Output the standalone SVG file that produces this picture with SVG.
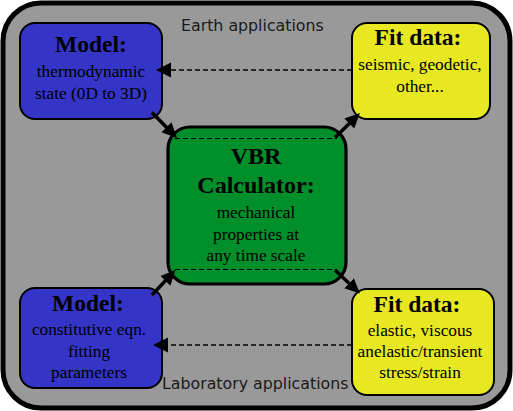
<svg xmlns="http://www.w3.org/2000/svg" width="513" height="411" viewBox="0 0 513 411">
<style>
.box{stroke:#000;stroke-width:2}
.blue{fill:#3434c6}
.yellow{fill:#e8e822}
.green{fill:#008f2b;stroke:#000;stroke-width:3.2}
.h{font-family:"Liberation Serif",serif;font-weight:bold;font-size:23.5px;fill:#000;text-anchor:middle}
.t{font-family:"Liberation Serif",serif;font-size:17.3px;fill:#000;text-anchor:middle}
.lab{font-family:"DejaVu Sans",sans-serif;font-size:15.8px;fill:#1a1a1a}
.solid{stroke:#000;stroke-width:3.5;fill:none}
.dash{stroke:#000;stroke-width:1.5;fill:none;stroke-dasharray:5,3}
.thin{stroke:#000;stroke-width:1.2;fill:none;stroke-dasharray:5,3}
</style>
<defs>
<marker id="ah" markerUnits="userSpaceOnUse" markerWidth="16" markerHeight="15" refX="9" refY="7" orient="auto">
<path d="M0,0 L15,7 L0,14 z" fill="#000"/>
</marker>
<marker id="dh" markerUnits="userSpaceOnUse" markerWidth="16" markerHeight="16" refX="14" refY="7.5" orient="auto">
<path d="M0,0 L15,7.5 L0,15 z" fill="#000"/>
</marker>
</defs>
<g id="background">
<rect x="3" y="3" width="507" height="405" rx="38" ry="38" fill="#999999" stroke="#000" stroke-width="5"/>
<text class="lab" x="181" y="31">Earth applications</text>
<text class="lab" x="162" y="389">Laboratory applications</text>
</g>
<g id="model-earth">
<rect class="box blue" x="20" y="23" width="142" height="96" rx="15"/>
<text class="h" x="91" y="52">Model:</text>
<text class="t" x="91" y="77">thermodynamic</text>
<text class="t" x="91" y="99">state (0D to 3D)</text>
</g>
<g id="fit-earth">
<rect class="box yellow" x="352" y="23" width="138" height="96" rx="15"/>
<text class="h" x="418" y="45">Fit data:</text>
<text class="t" x="420" y="70">seismic, geodetic,</text>
<text class="t" x="420" y="92">other...</text>
</g>
<g id="vbr">
<rect class="green" x="168" y="127" width="178" height="157" rx="22"/>
<text class="h" x="256" y="164" style="font-size:24px">VBR</text>
<text class="h" x="256" y="193" style="font-size:24px">Calculator:</text>
<text class="t" x="256" y="218">mechanical</text>
<text class="t" x="256" y="240">properties at</text>
<text class="t" x="256" y="261">any time scale</text>
</g>
<g id="model-lab">
<rect class="box blue" x="20" y="288" width="142" height="100" rx="15"/>
<text class="h" x="88" y="311">Model:</text>
<text class="t" x="89" y="335">constitutive eqn.</text>
<text class="t" x="89" y="357">fitting</text>
<text class="t" x="89" y="378">parameters</text>
</g>
<g id="fit-lab">
<rect class="box yellow" x="352" y="289" width="142" height="106" rx="15"/>
<text class="h" x="417" y="312">Fit data:</text>
<text class="t" x="420" y="336">elastic, viscous</text>
<text class="t" x="420" y="357">anelastic/transient</text>
<text class="t" x="420" y="378">stress/strain</text>
</g>
<g id="connectors">
<path class="dash" d="M352,70 L157,70" marker-end="url(#dh)"/>
<path class="dash" d="M352,345 L154,345" marker-end="url(#dh)"/>
<path class="thin" d="M175,138.5 L337,138.5"/>
<path class="thin" d="M175,269.5 L337,269.5"/>
<path class="solid" d="M152,112.5 L172.8,133.7" marker-end="url(#ah)"/>
<path class="solid" d="M335,137.5 L355.7,117.2" marker-end="url(#ah)"/>
<path class="solid" d="M152,295 L171.4,274.4" marker-end="url(#ah)"/>
<path class="solid" d="M335,270 L355.6,289.4" marker-end="url(#ah)"/>
</g>
</svg>
